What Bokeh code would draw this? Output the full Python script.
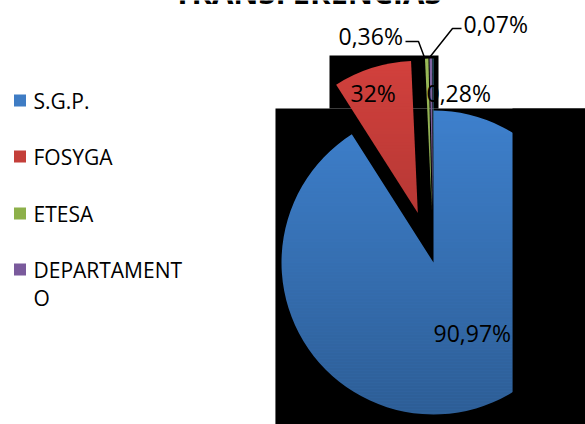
import math
from bokeh.plotting import figure
from bokeh.models import Range1d, Label
from bokeh.core.properties import value
from bokeh.embed import file_html
from bokeh.resources import INLINE

# ---------------- data ----------------
title = "TRANSFERENCIAS"
categories = ["S.G.P.", "FOSYGA", "ETESA", "DEPARTAMENTO", "OTROS"]
percents = [90.97, 8.32, 0.36, 0.28, 0.07]
pct_labels = ["90,97%", "32%", "0,36%", "0,28%", "0,07%"]   # as visible in the picture
legend_lines = [["S.G.P."], ["FOSYGA"], ["ETESA"], ["DEPARTAMENT", "O"]]
colors = ["#4186d6", "#d2413d", "#9bbb59", "#8064a2", "#4bacc6"]
legend_colors = ["#3f7cc4", "#c43f3a", "#8db04a", "#7a5a9c"]

# ---------------- layout (page pixels) ----------------
W, H = 585, 424
def Y(py):
    return H - py

TEXT_DY = -8  # svg text renders a bit below its alphabetic anchor
CX, CY, R = 433, 262, 152
explode = [0, 52, 52, 52, 52]
# label anchor (left x, baseline y)
label_pos = [(433, 340), (350, 100), (338, 43), (426, 100), (463, 31)]
leaders = [
    [(405, 41), (418, 41), (424, 57)],
    [(461, 28), (452, 28), (429, 57)],
]
FONT = "Open Sans"

p = figure(width=W, height=H, x_range=Range1d(0, W), y_range=Range1d(0, H),
           output_backend="svg", toolbar_location=None, min_border=0,
           x_axis_type=None, y_axis_type=None)
p.grid.visible = False
p.outline_line_color = None
p.background_fill_color = "white"
p.border_fill_color = "white"

# black background blocks of the plot area
p.quad(left=[275, 329], right=[585, 438], top=[Y(108), Y(55)], bottom=[Y(424), Y(108)],
       fill_color="black", line_color=None)

# pie slices (clockwise from 12 o'clock)
total = sum(percents)
cum = 0.0
xs, ys, starts, ends = [], [], [], []
for v, e in zip(percents, explode):
    a0 = cum / total * 2 * math.pi
    cum += v
    a1 = cum / total * 2 * math.pi
    mid = (a0 + a1) / 2
    xs.append(CX + e * math.sin(mid))
    ys.append(Y(CY) + e * math.cos(mid))
    starts.append(math.pi / 2 - a0)
    ends.append(math.pi / 2 - a1)
p.wedge(x=xs, y=ys, radius=R, start_angle=starts, end_angle=ends, direction="clock",
        fill_color=colors, line_color=None)

# right part of plot area hides the pie
p.quad(left=[512], right=[585], top=[Y(108)], bottom=[Y(424)], fill_color="black", line_color=None)

# vertical shading (gradient look) over the black plot area
bl, br, bt, bb, ba = [], [], [], [], []
for yy in range(55, 424, 3):
    if yy < 108:
        l, r = 329, 438
    else:
        l, r = 275, 512
    bl.append(l); br.append(r); bt.append(Y(yy)); bb.append(Y(yy + 3))
    ba.append(max(0.0, (yy + 1.5 - 60) * 0.00085))
p.quad(left=bl, right=br, top=bt, bottom=bb, fill_color="black", fill_alpha=ba, line_color=None)

# data labels
p.text(x=[lp[0] for lp in label_pos], y=[Y(lp[1] + TEXT_DY) for lp in label_pos], text=pct_labels,
       text_font=value(FONT), text_font_size=value("23px"), text_color="black",
       text_align="left", text_baseline="alphabetic")

# leader lines
for ln in leaders:
    p.line(x=[q[0] for q in ln], y=[Y(q[1]) for q in ln], line_color="black", line_width=1.5)

# legend
leg_y = [100, 156, 213, 269]
p.scatter(x=[19.5] * 4, y=[Y(v) for v in leg_y], marker="square", size=12,
          fill_color=legend_colors, line_color=None)
tx, ty, tt = [], [], []
for i, lines in enumerate(legend_lines):
    for j, t in enumerate(lines):
        tx.append(33)
        ty.append(Y(leg_y[i] + 8 + 28 * j + TEXT_DY))
        tt.append(t)
p.text(x=tx, y=ty, text=tt, text_font=value(FONT), text_font_size=value("21px"),
       text_color="black", text_align="left", text_baseline="alphabetic")

# title, mostly above the visible page (as in the reference)
p.add_layout(Label(x=307, y=H + 9, text=title, text_align="center", text_baseline="alphabetic",
                   text_font=FONT, text_font_size="31px", text_font_style="bold",
                   text_color="black"))

open("out.html", "w").write(file_html(p, INLINE))
